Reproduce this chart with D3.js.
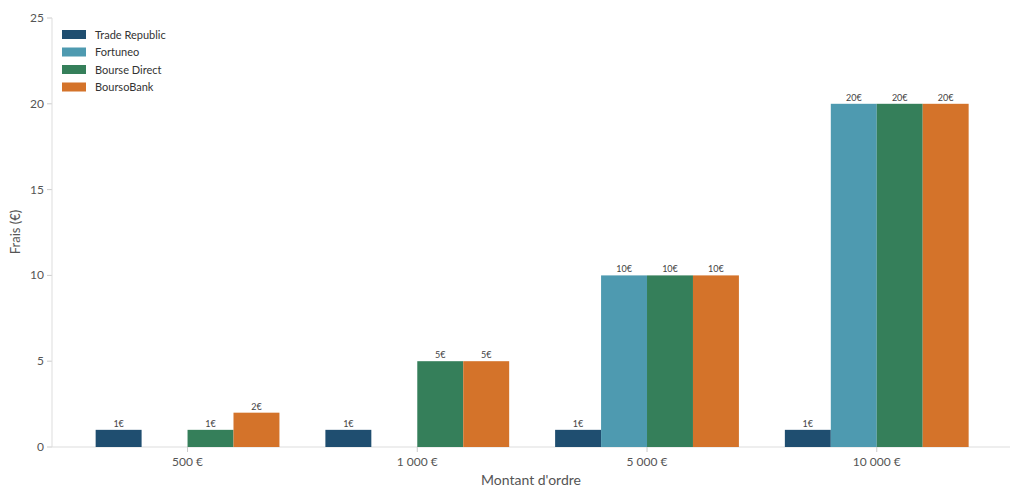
<!DOCTYPE html>
<html><head><meta charset="utf-8">
<script src="https://cdn.jsdelivr.net/npm/d3@7"></script>
<style>body{margin:0;background:#fff;font-family:Lato,"Open Sans",sans-serif}</style>
</head><body><svg id="c" width="1024" height="502"></svg>
<script>
const categories = ["500 €", "1 000 €", "5 000 €", "10 000 €"];
const seriesNames = ["Trade Republic", "Fortuneo", "Bourse Direct", "BoursoBank"];
const tradeRepublic = [1, 1, 1, 1];
const fortuneo = [0, 0, 10, 20];
const bourseDirect = [1, 5, 10, 20];
const boursoBank = [2, 5, 10, 20];
const yTicks = [0, 5, 10, 15, 20, 25];
const colors = ["#1f4e70", "#4e9ab0", "#357f5a", "#d4732a"];
const series = [tradeRepublic, fortuneo, bourseDirect, boursoBank];

const svg = d3.select("#c");
const x = d3.scaleLinear().domain([-0.59, 3.58]).range([52, 1010]);
const y = d3.scaleLinear().domain([0, 25]).range([447, 18]);
const w = 0.2;

svg.append("g").selectAll("text").data(yTicks).join("text")
  .attr("x", 44).attr("y", d => y(d) + 4).attr("text-anchor", "end")
  .attr("font-size", 12).attr("fill", "#555").text(d => d);
svg.append("g").selectAll("line").data(yTicks).join("line")
  .attr("x1", 47).attr("x2", 52).attr("y1", d => y(d)).attr("y2", d => y(d)).attr("stroke", "#ccc");
svg.append("line").attr("x1", 52).attr("x2", 52).attr("y1", 18).attr("y2", 447).attr("stroke", "#ddd");
svg.append("line").attr("x1", 52).attr("x2", 1010).attr("y1", 447).attr("y2", 447).attr("stroke", "#ddd");

series.forEach((vals, s) => {
  const off = (s - 1.5) * w;
  const g = svg.append("g");
  vals.forEach((v, i) => {
    if (v <= 0) return;
    g.append("rect").attr("x", x(i + off - w / 2)).attr("width", x(i + off + w / 2) - x(i + off - w / 2))
      .attr("y", y(v)).attr("height", y(0) - y(v)).attr("fill", colors[s]);
    g.append("text").attr("x", x(i + off)).attr("y", y(v) - 3).attr("text-anchor", "middle")
      .attr("font-size", 9).attr("fill", "#444").text(v + "€");
  });
});

svg.append("g").selectAll("text").data(categories).join("text")
  .attr("x", (d, i) => x(i)).attr("y", 466).attr("text-anchor", "middle")
  .attr("font-size", 12).attr("fill", "#555").text(d => d);
svg.append("g").selectAll("line").data(categories).join("line")
  .attr("x1", (d, i) => x(i)).attr("x2", (d, i) => x(i)).attr("y1", 447).attr("y2", 452).attr("stroke", "#ccc");

svg.append("text").attr("x", 531).attr("y", 485).attr("text-anchor", "middle")
  .attr("font-size", 14).attr("fill", "#555").text("Montant d'ordre");
svg.append("text").attr("transform", "translate(20,232) rotate(-90)").attr("text-anchor", "middle")
  .attr("font-size", 13).attr("fill", "#555").text("Frais (€)");

const lg = svg.append("g");
seriesNames.forEach((n, i) => {
  lg.append("rect").attr("x", 62).attr("y", 30 + i * 17.5).attr("width", 24).attr("height", 9).attr("fill", colors[i]);
  lg.append("text").attr("x", 95).attr("y", 38.5 + i * 17.5).attr("font-size", 11).attr("fill", "#333").text(n);
});
</script></body></html>
